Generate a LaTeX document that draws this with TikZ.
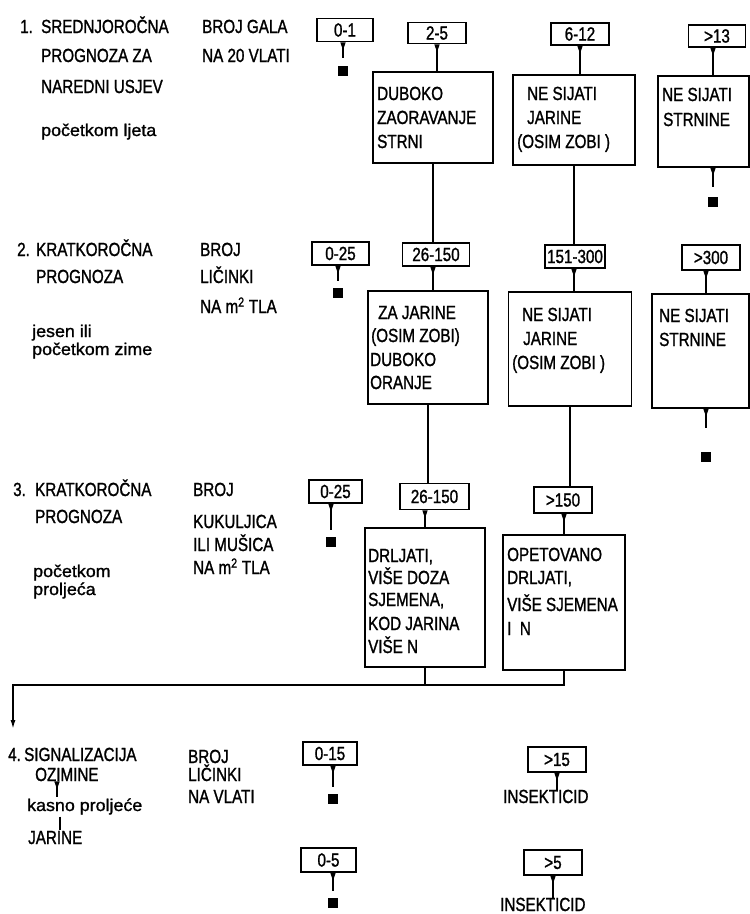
\documentclass[tikz,border=0pt]{standalone}
\usepackage{fontspec}
\setmainfont[FakeStretch=0.8,FakeBold=1.2]{Liberation Sans}
\newfontfamily\lowfam[FakeStretch=1.05,FakeBold=1.2]{Liberation Sans}
\usetikzlibrary{arrows.meta}
\newcommand\capsf{\fontsize{19}{21}\selectfont}
\newcommand\lowsf{\lowfam\fontsize{17}{19}\selectfont}
\begin{document}
\begin{tikzpicture}[x=1pt,y=-1pt,
  txt/.style={anchor=base west,inner sep=0pt,font=\capsf},
  ltxt/.style={anchor=base west,inner sep=0pt,font=\lowsf},
  rng/.style={draw,line width=1.6pt,inner sep=0pt,font=\capsf},
  resbox/.style={draw,line width=1.6pt,inner sep=0pt},
  sq/.style={fill=black,minimum size=10pt,inner sep=0pt},
  conn/.style={line width=1.5pt},
  wedge/.style={line width=1.5pt,{Triangle[reversed,length=8pt,width=5pt]}-},
  arr/.style={line width=1.5pt,-{Latex[length=9pt,width=5pt]}}]
\useasboundingbox (0,0) rectangle (750,914);
\fill[white] (0,0) rectangle (750,914);

% ---------- Row 1 ----------
\node[txt] (n1) at (20,33) {1.};
\node[txt] (l1a) at (41,33) {SREDNJOROČNA};
\node[txt] (l1b) at (41,62) {PROGNOZA ZA};
\node[txt] (l1c) at (41,93) {NAREDNI USJEV};
\node[ltxt] (l1d) at (41,136) {početkom ljeta};
\node[txt] (m1a) at (202,33) {BROJ GALA};
\node[txt] (m1b) at (202,62) {NA 20 VLATI};

\node[rng,minimum width=56,minimum height=23] (r1a) at (345,30) {0-1};
\node[rng,minimum width=58,minimum height=21] (r1b) at (437,33) {2-5};
\node[rng,minimum width=58,minimum height=22] (r1c) at (580,34) {6-12};
\node[rng,minimum width=57,minimum height=22] (r1d) at (717,36) {>13};

\node[resbox,minimum width=120,minimum height=91] (b1a) at (433,117.5) {};
\node[resbox,minimum width=122,minimum height=90] (b1b) at (574,120) {};
\node[resbox,minimum width=91,minimum height=91] (b1c) at (703.5,121.5) {};

\node[txt] (t1a1) at (377,100) {DUBOKO};
\node[txt] (t1a2) at (377,124) {ZAORAVANJE};
\node[txt] (t1a3) at (377,148) {STRNI};
\node[txt] (t1b1) at (527,100) {NE SIJATI};
\node[txt] (t1b2) at (527,124) {JARINE};
\node[txt] (t1b3) at (517,148) {(OSIM ZOBI )};
\node[txt] (t1c1) at (662,101) {NE SIJATI};
\node[txt] (t1c2) at (663,126) {STRNINE};

\node[sq] (s1a) at (343,71) {};
\node[sq] (s1c) at (713,202) {};

\draw[wedge] (s1a.north |- r1a.south) -- ([yshift=8pt]s1a.north);
\draw[wedge] (r1b.south) -- (r1b.south |- b1a.north);
\draw[wedge] (r1c.south) -- (r1c.south |- b1b.north);
\draw[wedge] (s1c.north |- r1d.south) -- (s1c.north |- b1c.north);
\draw[wedge] (s1c.north |- b1c.south) -- ([yshift=10pt]s1c.north);

% ---------- Row 2 ----------
\node[txt] (n2) at (17,256) {2.};
\node[txt] (l2a) at (36,256) {KRATKOROČNA};
\node[txt] (l2b) at (36,283) {PROGNOZA};
\node[ltxt] (l2c) at (32,337) {jesen ili};
\node[ltxt] (l2d) at (32,355) {početkom zime};
\node[txt] (m2a) at (200,256) {BROJ};
\node[txt] (m2b) at (200,283) {LIČINKI};
\node[txt] (m2c) at (200,313) {NA m\textsuperscript{2} TLA};

\node[rng,minimum width=57,minimum height=23] (r2a) at (340.5,253.5) {0-25};
\node[rng,minimum width=67,minimum height=23] (r2b) at (436,254.5) {26-150};
\node[rng,minimum width=60,minimum height=23] (r2c) at (575,256.5) {151-300};
\node[rng,minimum width=58,minimum height=25] (r2d) at (711,257.5) {>300};

\node[resbox,minimum width=120,minimum height=113] (b2a) at (428,347.5) {};
\node[resbox,minimum width=123,minimum height=114] (b2b) at (570,349) {};
\node[resbox,minimum width=97,minimum height=114] (b2c) at (700.5,351) {};

\node[txt] (t2a1) at (378,319) {ZA JARINE};
\node[txt] (t2a2) at (371,342) {(OSIM ZOBI)};
\node[txt] (t2a3) at (370,366) {DUBOKO};
\node[txt] (t2a4) at (370,389) {ORANJE};
\node[txt] (t2b1) at (522,321) {NE SIJATI};
\node[txt] (t2b2) at (523,345) {JARINE};
\node[txt] (t2b3) at (512,369) {(OSIM ZOBI )};
\node[txt] (t2c1) at (659,322) {NE SIJATI};
\node[txt] (t2c2) at (659,346) {STRNINE};

\node[sq] (s2a) at (338,293) {};
\node[sq] (s2c) at (706,457) {};

\draw[conn] (b1a.south) -- (b1a.south |- r2b.north);
\draw[conn] (b1b.south) -- (b1b.south |- r2c.north);
\draw[wedge] (s2a.north |- r2a.south) -- ([yshift=7pt]s2a.north);
\draw[wedge] (b1a.south |- r2b.south) -- (b1a.south |- b2a.north);
\draw[wedge] (b1b.south |- r2c.south) -- (b1b.south |- b2b.north);
\draw[wedge] (s2c.north |- r2d.south) -- (s2c.north |- b2c.north);
\draw[wedge] (s2c.north |- b2c.south) -- ([yshift=24pt]s2c.north);

% ---------- Row 3 ----------
\node[txt] (n3) at (13,496) {3.};
\node[txt] (l3a) at (35,496) {KRATKOROČNA};
\node[txt] (l3b) at (35,523) {PROGNOZA};
\node[ltxt] (l3c) at (33,577) {početkom};
\node[ltxt] (l3d) at (33,595) {proljeća};
\node[txt] (m3a) at (193,496) {BROJ};
\node[txt] (m3b) at (193,528) {KUKULJICA};
\node[txt] (m3c) at (193,551) {ILI MUŠICA};
\node[txt] (m3d) at (193,574) {NA m\textsuperscript{2} TLA};

\node[rng,minimum width=53,minimum height=23] (r3a) at (335.5,491.5) {0-25};
\node[rng,minimum width=69,minimum height=26] (r3b) at (434.5,496.5) {26-150};
\node[rng,minimum width=58,minimum height=26] (r3c) at (563,500) {>150};

\node[resbox,minimum width=120,minimum height=139] (b3a) at (425,597.5) {};
\node[resbox,minimum width=122,minimum height=135] (b3b) at (564,602.5) {};

\node[txt] (t3a1) at (368,562) {DRLJATI,};
\node[txt] (t3a2) at (368,584) {VIŠE DOZA};
\node[txt] (t3a3) at (368,606) {SJEMENA,};
\node[txt] (t3a4) at (368,630) {KOD JARINA};
\node[txt] (t3a5) at (368,653) {VIŠE N};
\node[txt] (t3b1) at (507,561) {OPETOVANO};
\node[txt] (t3b2) at (507,584) {DRLJATI,};
\node[txt] (t3b3) at (507,611) {VIŠE SJEMENA};
\node[txt] (t3b4) at (507,635) {I\ \ N};

\node[sq] (s3a) at (331,542) {};

\draw[conn] (b2a.south) -- (b2a.south |- r3b.north);
\draw[conn] (b2b.south) -- (b2b.south |- r3c.north);
\draw[wedge] (s3a.north |- r3a.south) -- ([yshift=7pt]s3a.north);
\draw[wedge] (b3a.north |- r3b.south) -- (b3a.north);
\draw[wedge] (b3b.north |- r3c.south) -- (b3b.north);

% join to row 4
\coordinate (jl) at (13,685);
\coordinate (jt) at (13,729);
\draw[conn] (b3a.south) -- (b3a.south |- jl);
\draw[arr] (b3b.south) -- (b3b.south |- jl) -- (jl) -- (jt);

% ---------- Row 4 ----------
\node[txt] (n4) at (8,761) {4.};
\node[txt] (l4a) at (24,761) {SIGNALIZACIJA};
\node[txt] (ozim) at (35,781) {OZIMINE};
\node[ltxt] (kasno) at (27,811) {kasno proljeće};
\node[txt] (jar) at (28,844) {JARINE};
\node[txt] (m4a) at (188,763) {BROJ};
\node[txt] (m4b) at (188,781) {LIČINKI};
\node[txt] (m4c) at (188,803) {NA VLATI};

\node[rng,minimum width=54,minimum height=23] (r4a) at (330,753.5) {0-15};
\node[rng,minimum width=55,minimum height=24] (r4b) at (328.5,860) {0-5};
\node[rng,minimum width=58,minimum height=25] (r4c) at (557,759.5) {>15};
\node[rng,minimum width=58,minimum height=25] (r4d) at (553,862.5) {>5};

\node[txt] (ins1) at (503,803) {INSEKTICID};
\node[txt] (ins2) at (500,911) {INSEKTICID};

\node[sq] (s4a) at (333,799) {};
\node[sq] (s4b) at (333,903) {};

\draw[wedge] (s4a.north |- r4a.south) -- ([yshift=7pt]s4a.north);
\draw[wedge] (s4b.north |- r4b.south) -- ([yshift=7pt]s4b.north);
\draw[wedge] (r4c.south) -- (r4c.south |- ins1.north);
\draw[wedge] (r4d.south) -- (r4d.south |- ins2.north);

\coordinate (oz) at (57,0);
\draw[wedge] (oz |- ozim.south) -- ([yshift=1pt]oz |- kasno.north);
\coordinate (kj) at (60,0);
\draw[conn] ([yshift=-2pt]kj |- kasno.south) -- ([yshift=1pt]kj |- jar.north);
\end{tikzpicture}
\end{document}
